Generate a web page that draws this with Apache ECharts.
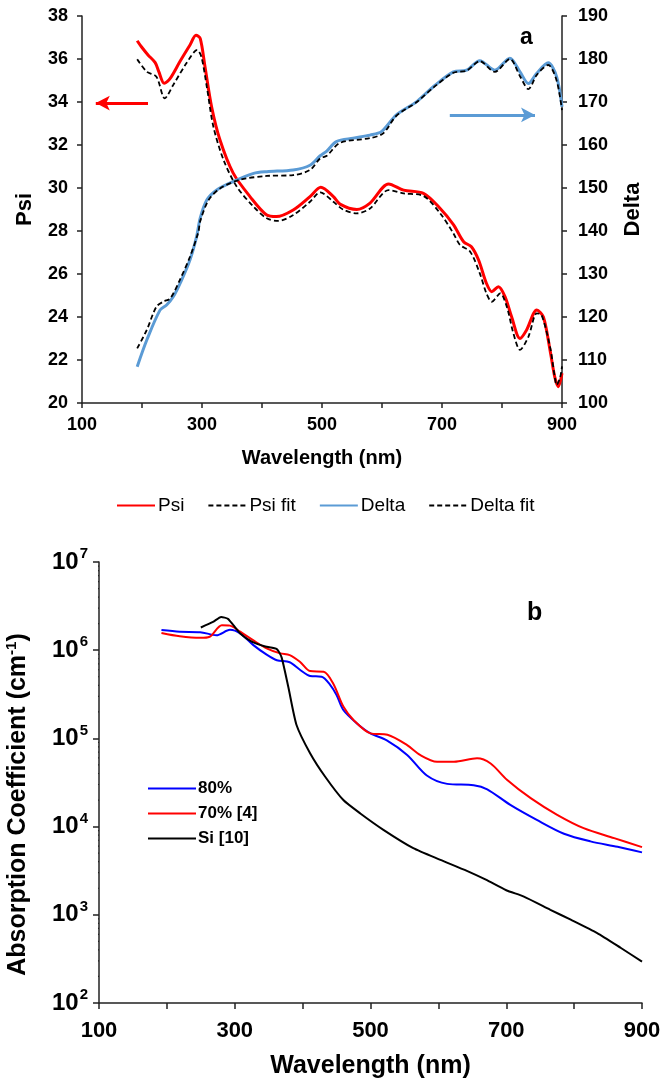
<!DOCTYPE html>
<html>
<head>
<meta charset="utf-8">
<script src="https://cdn.jsdelivr.net/npm/echarts@6/dist/echarts.min.js"></script>
<style>
html,body{margin:0;padding:0;background:#fff;}
#chart{width:663px;height:1080px;}
</style>
</head>
<body>
<div id="chart"></div>
<script>
// ---------- Panel a : ellipsometry ----------
const psiData = [[192,36.85],[199,36.57],[210,36.19],[222,35.83],[228,35.41],[237,34.87],[247,35.1],[263,35.87],[280,36.65],[290,37.1],[297,36.96],[305,35.64],[316,33.78],[330,32.23],[352,30.69],[380,29.6],[408,28.74],[424,28.67],[452,28.98],[480,29.6],[498,30.03],[519,29.6],[530,29.25],[558,29.0],[580,29.3],[611,30.19],[636,29.9],[669,29.75],[697,29.05],[719,28.3],[736,27.5],[749,27.27],[761,26.65],[774,25.57],[783,25.18],[794,25.41],[805,24.95],[816,24.01],[830,23.0],[841,23.4],[858,24.33],[869,24.0],[880,22.47],[888,21.2],[894,20.76],[900,21.38]];
const psiFitData = [[192,35.99],[208,35.41],[224,35.18],[238,34.17],[252,34.79],[274,35.8],[292,36.42],[299,36.1],[308,34.71],[319,32.85],[336,31.3],[358,30.06],[386,29.13],[408,28.59],[427,28.47],[452,28.74],[480,29.36],[497,29.8],[519,29.36],[535,29.0],[558,28.82],[580,29.05],[611,29.9],[636,29.75],[669,29.63],[697,28.82],[719,27.89],[730,27.35],[747,27.04],[763,26.03],[774,25.1],[783,24.71],[797,25.1],[808,24.48],[819,23.24],[830,22.47],[844,23.08],[858,24.17],[866,24.09],[880,22.62],[888,21.2],[891,20.84],[897,21.2],[900,21.7]];
const deltaData = [[192,108.45],[208,114.65],[230,121.6],[241,122.8],[252,124.7],[266,128.6],[280,133.3],[291,138.7],[297,143.0],[308,147.2],[324,149.5],[352,151.5],[386,153.4],[408,153.8],[452,154.2],[480,155.3],[497,157.5],[508,158.6],[524,160.8],[552,161.6],[580,162.3],[599,163.1],[624,167.0],[658,170.1],[686,173.6],[719,177.0],[741,177.4],[763,179.6],[788,177.4],[813,180.2],[830,177.0],[844,174.3],[858,176.7],[877,179.1],[891,175.9],[900,168.9]];
const deltaFitData = [[192,112.7],[208,117.0],[224,122.4],[236,123.6],[247,124.3],[263,128.6],[280,134.0],[294,139.8],[297,142.3],[311,147.2],[330,149.9],[363,151.9],[408,152.8],[452,153.0],[480,154.2],[497,156.9],[508,157.5],[530,160.5],[580,161.6],[602,162.7],[624,166.8],[658,170.0],[686,173.4],[719,176.8],[741,177.3],[763,179.5],[788,177.0],[813,180.0],[830,176.0],[844,173.0],[858,176.3],[877,178.6],[891,175.0],[900,168.1]];
const psiArrow = [[210,33.95],[123,33.95]];
const deltaArrow = [[713,167.0],[855,167.0]];
const legendA = ['Psi','Psi fit','Delta','Delta fit'];

// ---------- Panel b : absorption coefficient ----------
const abs80 = [[192,1.69e6],[219,1.62e6],[249,1.60e6],[273,1.48e6],[293,1.70e6],[308,1.55e6],[327,1.15e6],[347,8.9e5],[362,7.7e5],[381,7.3e5],[396,6.0e5],[411,5.1e5],[428,5.0e5],[440,4.1e5],[450,3.1e5],[460,2.1e5],[480,1.48e5],[500,1.14e5],[524,9.5e4],[554,6.5e4],[583,3.8e4],[613,3.05e4],[652,2.95e4],[672,2.65e4],[706,1.76e4],[745,1.19e4],[785,8.3e3],[824,6.8e3],[864,5.9e3],[900,5.1e3]];
const abs70 = [[192,1.57e6],[219,1.44e6],[249,1.38e6],[263,1.42e6],[281,1.92e6],[293,1.90e6],[308,1.62e6],[327,1.30e6],[347,1.05e6],[367,9.2e5],[381,8.8e5],[396,7.4e5],[411,5.8e5],[431,5.7e5],[445,4.2e5],[460,2.3e5],[475,1.62e5],[500,1.14e5],[525,1.10e5],[554,8.4e4],[573,6.5e4],[598,5.45e4],[623,5.45e4],[657,5.96e4],[677,5.2e4],[701,3.4e4],[736,2.1e4],[775,1.36e4],[814,9.6e3],[859,7.4e3],[900,5.85e3]];
const absSi = [[250,1.81e6],[268,2.09e6],[280,2.38e6],[290,2.27e6],[298,1.92e6],[308,1.55e6],[325,1.25e6],[345,1.10e6],[362,1.03e6],[369,8.3e5],[379,3.8e5],[391,1.42e5],[411,6.8e4],[433,3.7e4],[460,2.0e4],[485,1.41e4],[519,9.2e3],[563,5.7e3],[603,4.2e3],[642,3.15e3],[670,2.5e3],[700,1.9e3],[726,1.61e3],[765,1.14e3],[795,8.8e2],[834,6.2e2],[869,4.2e2],[900,2.95e2]];
const legendB = ['80%','70% [4]','Si [10]'];
const xLabelValues = [100,300,500,700,900];
// minor tick values of the logarithmic axis (2..9 x 10^k)
const logMinorValues = [];
for (let k = 2; k < 7; k++) { for (let m = 2; m <= 9; m++) { logMinorValues.push(m * Math.pow(10, k)); } }

const FF = "'Liberation Sans', Arial, sans-serif";
const AX = '#222';
const MINOR_TICK_NM = 6.5;   // minor tick length expressed along the wavelength axis (~4.5 px)

const chart = echarts.init(document.getElementById('chart'), null, {renderer: 'canvas'});
const xFmt = v => (xLabelValues.indexOf(v) >= 0 ? String(v) : '');

const dataSeries = [
  {name: 'Psi', type: 'line', xAxisIndex: 0, yAxisIndex: 0, data: psiData, symbol: 'none', smooth: 0.3,
   lineStyle: {color: '#ff0000', width: 3}, itemStyle: {color: '#ff0000'}, z: 2,
   markLine: {silent: true, symbol: ['none', 'arrow'], symbolSize: [11, 14], label: {show: false},
     lineStyle: {color: '#ff0000', width: 3, type: 'solid'},
     data: [[{coord: psiArrow[0]}, {coord: psiArrow[1]}]]}},
  {name: 'Delta', type: 'line', xAxisIndex: 0, yAxisIndex: 1, data: deltaData, symbol: 'none', smooth: 0.3,
   lineStyle: {color: '#5b9bd5', width: 3}, itemStyle: {color: '#5b9bd5'}, z: 2,
   markLine: {silent: true, symbol: ['none', 'arrow'], symbolSize: [11, 14], label: {show: false},
     lineStyle: {color: '#5b9bd5', width: 3, type: 'solid'},
     data: [[{coord: deltaArrow[0]}, {coord: deltaArrow[1]}]]}},
  {name: 'Psi fit', type: 'line', xAxisIndex: 0, yAxisIndex: 0, data: psiFitData, symbol: 'none', smooth: 0.3,
   lineStyle: {color: '#000', width: 1.8, type: [5, 3]}, itemStyle: {color: '#000'}, z: 3},
  {name: 'Delta fit', type: 'line', xAxisIndex: 0, yAxisIndex: 1, data: deltaFitData, symbol: 'none', smooth: 0.3,
   lineStyle: {color: '#000', width: 1.8, type: [5, 3]}, itemStyle: {color: '#000'}, z: 3},
  {name: '80%', type: 'line', xAxisIndex: 1, yAxisIndex: 2, data: abs80, symbol: 'none', smooth: 0.3,
   lineStyle: {color: '#0000ff', width: 2}, itemStyle: {color: '#0000ff'}},
  {name: '70% [4]', type: 'line', xAxisIndex: 1, yAxisIndex: 2, data: abs70, symbol: 'none', smooth: 0.3,
   lineStyle: {color: '#ff0000', width: 2}, itemStyle: {color: '#ff0000'}},
  {name: 'Si [10]', type: 'line', xAxisIndex: 1, yAxisIndex: 2, data: absSi, symbol: 'none', smooth: 0.2,
   lineStyle: {color: '#000', width: 2}, itemStyle: {color: '#000'}}
];

// each minor tick of the log axis is a tiny two-point segment just left of the axis
const tickSeries = logMinorValues.map(v => ({
  name: 'minor tick', type: 'line', xAxisIndex: 1, yAxisIndex: 2,
  data: [[100 - MINOR_TICK_NM, v], [100, v]],
  symbol: 'none', clip: false, silent: true, smooth: false,
  lineStyle: {color: AX, width: 1.2}, itemStyle: {color: AX}, z: 5
}));

chart.setOption({
  animation: false,
  backgroundColor: '#fff',
  textStyle: {fontFamily: FF},
  title: [
    {text: 'a', left: 520, top: 26, padding: 0, textStyle: {fontSize: 23, fontWeight: 'bold', color: '#000', fontFamily: FF}},
    {text: 'b', left: 527, top: 601, padding: 0, textStyle: {fontSize: 25, fontWeight: 'bold', color: '#000', fontFamily: FF}}
  ],
  legend: [
    {data: legendA, left: 111, top: 491, itemWidth: 38, itemHeight: 14, itemGap: 23,
     itemStyle: {opacity: 0},
     textStyle: {fontSize: 19, color: '#000', fontFamily: FF, padding: [0,0,0,-2]}},
    {data: legendB, orient: 'vertical', left: 142, top: 775, itemWidth: 48, itemHeight: 14, itemGap: 8,
     itemStyle: {opacity: 0},
     textStyle: {fontSize: 17, fontWeight: 'bold', color: '#000', fontFamily: FF, padding: [0,0,0,-3]}}
  ],
  grid: [
    {left: 82, top: 16, width: 480, height: 387, containLabel: false, outerBoundsMode: 'none'},
    {left: 99, top: 562, width: 543, height: 441, containLabel: false, outerBoundsMode: 'none'}
  ],
  xAxis: [
    {gridIndex: 0, type: 'value', min: 100, max: 900, interval: 100,
     name: 'Wavelength (nm)', nameLocation: 'middle', nameGap: 45,
     nameTextStyle: {fontSize: 20, fontWeight: 'bold', color: '#000', fontFamily: FF},
     axisLine: {lineStyle: {color: AX, width: 1.5}},
     axisTick: {show: true, inside: false, length: 5, lineStyle: {color: AX, width: 1.5}},
     axisLabel: {formatter: xFmt, fontSize: 18, fontWeight: 'bold', color: '#000', margin: 13, fontFamily: FF},
     splitLine: {show: false}},
    {gridIndex: 1, type: 'value', min: 100, max: 900, interval: 100,
     name: 'Wavelength (nm)', nameLocation: 'middle', nameGap: 51,
     nameTextStyle: {fontSize: 25, fontWeight: 'bold', color: '#000', fontFamily: FF},
     axisLine: {lineStyle: {color: AX, width: 1.5}},
     axisTick: {show: true, inside: false, length: 6, lineStyle: {color: AX, width: 1.5}},
     axisLabel: {formatter: xFmt, fontSize: 22, fontWeight: 'bold', color: '#000', margin: 17, fontFamily: FF},
     splitLine: {show: false}}
  ],
  yAxis: [
    {gridIndex: 0, type: 'value', min: 20, max: 38, interval: 2, position: 'left',
     name: 'Psi', nameLocation: 'middle', nameGap: 46, nameRotate: 90,
     nameTextStyle: {fontSize: 22, fontWeight: 'bold', color: '#000', fontFamily: FF},
     axisLine: {show: true, lineStyle: {color: AX, width: 1.5}},
     axisTick: {show: true, length: 5, lineStyle: {color: AX, width: 1.5}},
     axisLabel: {fontSize: 18, fontWeight: 'bold', color: '#000', margin: 14, fontFamily: FF},
     splitLine: {show: false}},
    {gridIndex: 0, type: 'value', min: 100, max: 190, interval: 10, position: 'right',
     name: 'Delta', nameLocation: 'middle', nameGap: 60, nameRotate: 90,
     nameTextStyle: {fontSize: 22, fontWeight: 'bold', color: '#000', fontFamily: FF},
     axisLine: {show: true, lineStyle: {color: AX, width: 1.5}},
     axisTick: {show: true, length: 5, lineStyle: {color: AX, width: 1.5}},
     axisLabel: {fontSize: 18, fontWeight: 'bold', color: '#000', margin: 16, fontFamily: FF},
     splitLine: {show: false}},
    {gridIndex: 1, type: 'log', logBase: 10, min: 100, max: 1e7, position: 'left',
     name: 'Absorption Coefficient (cm{sup|-1})', nameLocation: 'middle', nameGap: 66, nameRotate: 90,
     nameTextStyle: {fontSize: 25, fontWeight: 'bold', color: '#000', fontFamily: FF, padding: [0, 44, 0, 0],
       rich: {sup: {fontSize: 15, fontWeight: 'bold', color: '#000', fontFamily: FF, padding: [0, 0, 14, 0]}}},
     axisLine: {show: true, lineStyle: {color: AX, width: 1.5}},
     axisTick: {show: true, length: 6, lineStyle: {color: AX, width: 1.5}},
     axisLabel: {margin: 11, fontFamily: FF,
       formatter: v => '{b|10}{s|' + Math.round(Math.log10(v)) + '}',
       rich: {b: {fontSize: 24, fontWeight: 'bold', color: '#000', fontFamily: FF},
              s: {fontSize: 15, fontWeight: 'bold', color: '#000', fontFamily: FF, padding: [0, 0, 16, 1]}}},
     splitLine: {show: false}}
  ],
  series: dataSeries.concat(tickSeries)
});
</script>
</body>
</html>
